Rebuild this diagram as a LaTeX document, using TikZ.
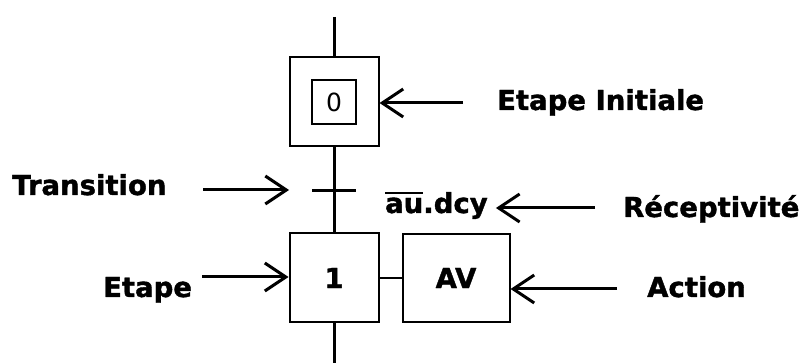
\documentclass[tikz,border=0pt]{standalone}
\usepackage{fontspec}
\setmainfont{DejaVu Sans}[BoldFeatures={FakeBold=1.4}]
\usetikzlibrary{arrows.meta,positioning}
\newcommand\bigbold{\fontsize{27.5}{33}\selectfont\bfseries}
\newcommand\negbar[1]{\vbox{\hrule height 2.4pt\kern 3.6pt\hbox{#1}}}
\tikzset{
  etapebox/.style={draw=black,line width=2pt,minimum width=89pt,minimum height=89pt,
    inner sep=0pt,font=\bigbold},
  actbox/.style={draw=black,line width=2pt,minimum width=107pt,minimum height=88pt,
    inner sep=0pt,font=\bigbold},
  lbl/.style={anchor=base west,inner sep=0pt,font=\bigbold},
  arr/.style={-{Straight Barb[length=21pt,width=28pt]},line width=3pt},
  link/.style={line width=3pt}
}

\begin{document}
\begin{tikzpicture}[x=1pt,y=-1pt]
  \useasboundingbox (0,0) rectangle (806,363);
  % grafcet column
  \node[etapebox] (e0) at (334,102) {};
  \node[draw=black,line width=2pt,minimum size=44pt,inner sep=0pt,
    font=\fontsize{25}{30}\selectfont] (e0in) at (e0.center) {0};
  \node[etapebox] (e1) at (334,278) {1};
  \node[actbox,right=22pt of e1] (av) {AV};
  \coordinate (top) at (334,17);
  \coordinate (bot) at (334,363);
  \coordinate (tr) at (334,191);
  \draw[link] (top) -- (e0.north);
  \draw[link] (e0.south) -- (e1.north);
  \draw[link] (e1.south) -- (bot);
  \draw[link] ([xshift=-22pt]tr) -- ([xshift=22pt]tr);
  \draw[line width=2.5pt] (e1.east) -- (av.west);
  \node[lbl] (cond) at (385,213) {\negbar{au}.dcy};
  % labels
  \node[lbl] (init) at (497,110) {Etape Initiale};
  \coordinate (init-t) at (463,103);
  \draw[arr] (init-t) -- (init-t -| e0.east);
  \node[lbl] (trans) at (12,195) {Transition};
  \coordinate (trans-t) at (203,190);
  \draw[arr,shorten >=45pt] (trans-t) -- (trans-t -| tr);
  \node[lbl] (recep) at (623,217) {Réceptivité};
  \coordinate (recep-t) at (595,208);
  \draw[arr,shorten >=8pt] (recep-t) -- (recep-t -| cond.east);
  \node[lbl] (etp) at (103,297) {Etape};
  \coordinate (etp-t) at (202,277);
  \draw[arr] (etp-t) -- (etp-t -| e1.west);
  \node[lbl] (act) at (647,297) {Action};
  \coordinate (act-t) at (617,289);
  \draw[arr] (act-t) -- (act-t -| av.east);
\end{tikzpicture}
\end{document}
